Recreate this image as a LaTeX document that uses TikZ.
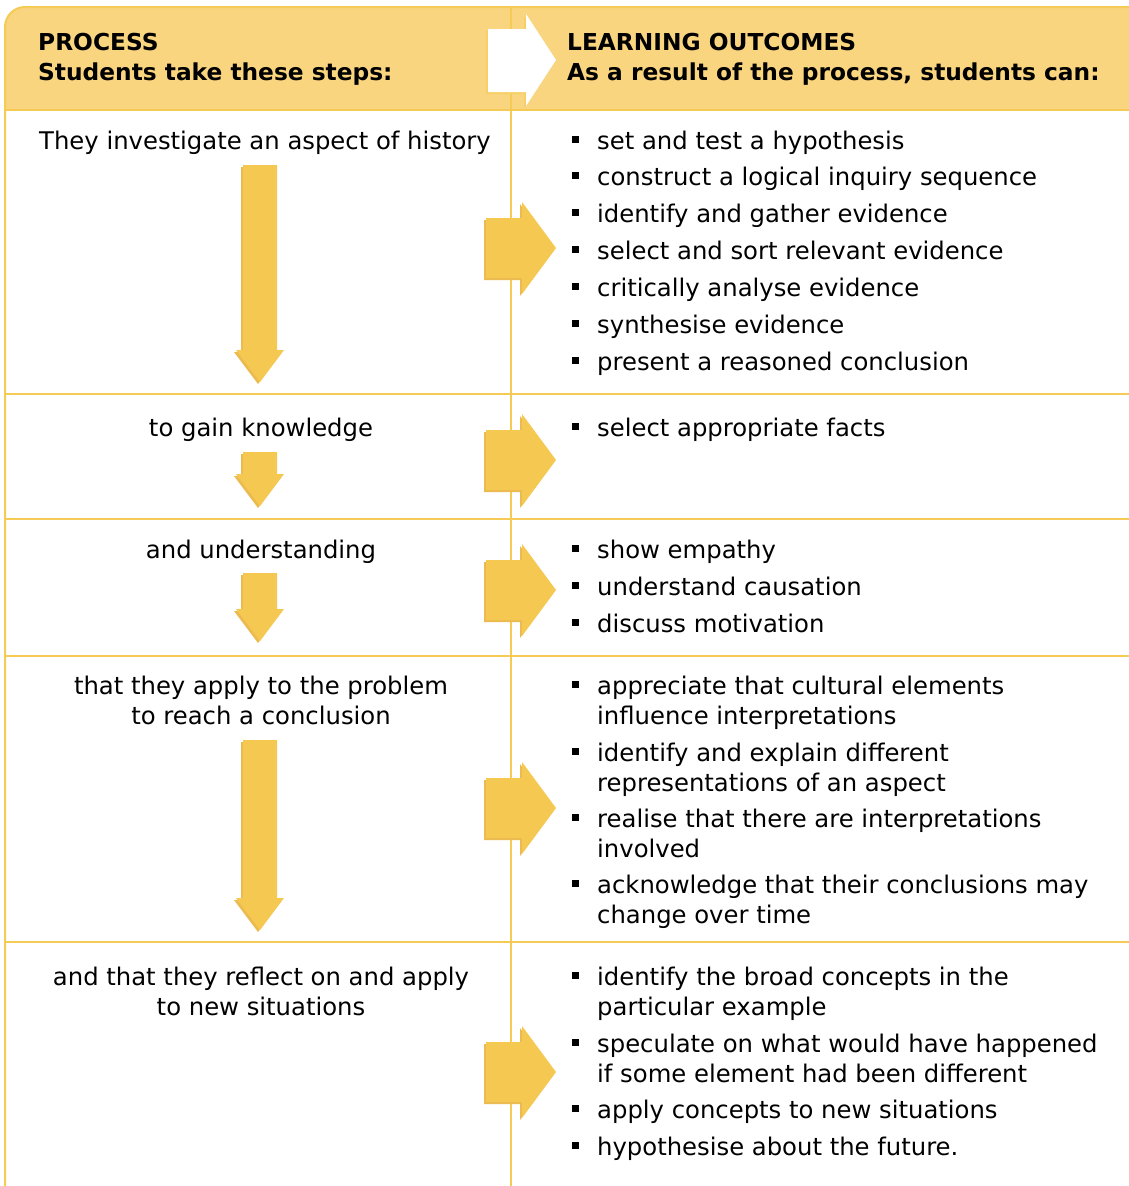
\documentclass[tikz,border=0pt]{standalone}
\usepackage{fontspec}
\setmainfont{DejaVu Sans}
\definecolor{headfill}{HTML}{F9D57F}
\definecolor{linecol}{HTML}{F6CB55}
\definecolor{arrowfill}{HTML}{F5C851}
\definecolor{arrowshade}{HTML}{EBBA50}
\newcommand\dArrow[3]{% x, top y, tip y
  \fill[arrowshade] (#1-17-2,#2+2) -- (#1+17-2,#2+2) -- (#1+17-2,#3-32+2) -- (#1+24-2,#3-32+2) -- (#1-2,#3+2) -- (#1-24-2,#3-32+2) -- (#1-17-2,#3-32+2) -- cycle;
  \fill[arrowfill] (#1-17,#2) -- (#1+17,#2) -- (#1+17,#3-32) -- (#1+24,#3-32) -- (#1,#3) -- (#1-24,#3-32) -- (#1-17,#3-32) -- cycle;}
\newcommand\rArrow[1]{% y centre
  \fill[arrowshade] (486-2,#1-30+2) -- (522-2,#1-30+2) -- (522-2,#1-46+2) -- (556-2,#1+2) -- (522-2,#1+46+2) -- (522-2,#1+30+2) -- (486-2,#1+30+2) -- cycle;
  \fill[arrowfill] (486,#1-30) -- (522,#1-30) -- (522,#1-46) -- (556,#1) -- (522,#1+46) -- (522,#1+30) -- (486,#1+30) -- cycle;}
\begin{document}
\begin{tikzpicture}[x=1pt,y=-1pt,
  rule/.style={draw=linecol, line width=2pt},
  lefttext/.style={font=\fontsize{24.3}{30}\selectfont, align=center, anchor=base, inner sep=0pt},
  item/.style={font=\fontsize{24.3}{29.5}\selectfont, align=left, inner sep=0pt},
  hdr/.style={font=\bfseries\fontsize{23.3}{30}\selectfont, align=left, anchor=base west, inner sep=0pt},
  bul/.style={fill=black, rectangle, minimum size=7pt, inner sep=0pt}]
\useasboundingbox (0,0) rectangle (1129,1186);
% header band
\fill[headfill] (5,110) -- (5,27) arc[start angle=180, end angle=270, radius=20] -- (1135,7) -- (1135,110) -- cycle;
% frame
\draw[rule] (5,1190) -- (5,27) arc[start angle=180, end angle=270, radius=20] -- (1135,7);
\draw[rule] (511,7) -- (511,1190);
\foreach \yy in {110,394,519,656,942} \draw[rule] (5,\yy) -- (1135,\yy);
% header arrow
\fill[linecol!60!headfill] (486,31) -- (524,31) -- (524,16) -- (554,62) -- (524,108) -- (524,94) -- (486,94) -- cycle;
\fill[white] (488,29) -- (526,29) -- (526,14) -- (556,60) -- (526,106) -- (526,92) -- (488,92) -- cycle;
% headers
\node[hdr] (h1) at (38,80) {PROCESS\\Students take these steps:};
\node[hdr] (h2) at (567,80) {LEARNING OUTCOMES\\As a result of the process, students can:};
% left texts
\node[lefttext] (l1) at (265,149) {They investigate an aspect of history};
\node[lefttext] (l2) at (261,436) {to gain knowledge};
\node[lefttext] (l3) at (261,558) {and understanding};
\node[lefttext] (l4) at (261,724) {that they apply to the problem\\to reach a conclusion};
\node[lefttext] (l5) at (261,1015) {and that they reflect on and apply\\to new situations};
% down arrows
\dArrow{260}{165}{382}
\dArrow{260}{452}{506}
\dArrow{260}{573}{641}
\dArrow{260}{740}{930}
% right arrows
\rArrow{248}
\rArrow{460}
\rArrow{590}
\rArrow{808}
\rArrow{1072}
% bullets
\foreach \by/\nm/\txt in {
  149/a1/{set and test a hypothesis},
  185/a2/{construct a logical inquiry sequence},
  222/a3/{identify and gather evidence},
  259/a4/{select and sort relevant evidence},
  296/a5/{critically analyse evidence},
  333/a6/{synthesise evidence},
  370/a7/{present a reasoned conclusion},
  436/b1/{select appropriate facts},
  558/c1/{show empathy},
  595/c2/{understand causation},
  632/c3/{discuss motivation},
  694/d1/{appreciate that cultural elements\\influence interpretations},
  761/d2/{identify and explain different\\representations of an aspect},
  827/d3/{realise that there are interpretations\\involved},
  893/d4/{acknowledge that their conclusions may\\change over time},
  985/e1/{identify the broad concepts in the\\particular example},
  1052/e2/{speculate on what would have happened\\if some element had been different},
  1118/e3/{apply concepts to new situations},
  1155/e4/{hypothesise about the future.}}
{
  \node[bul] (s\nm) at (575,\by-10) {};
  \node[item, anchor=north west] (\nm) at (597,\by-18) {\txt};
}
\end{tikzpicture}
\end{document}
